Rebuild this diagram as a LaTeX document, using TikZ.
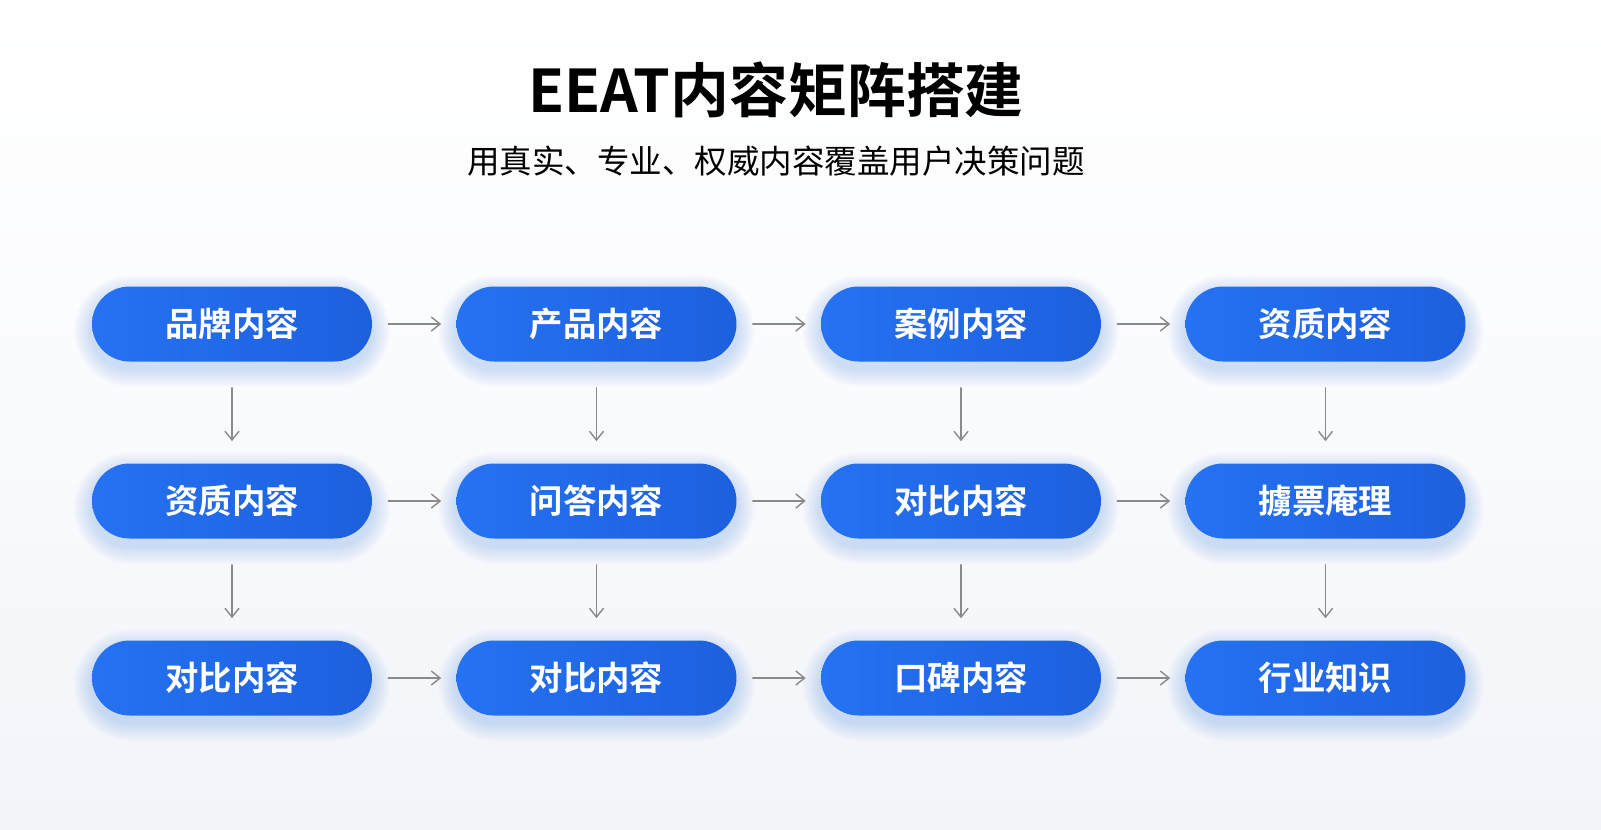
\documentclass[tikz,border=0pt]{standalone}
\usepackage{fontspec}
\newfontfamily\cjk[BoldFont={Noto Sans CJK SC Bold}]{Noto Sans CJK SC}
\usetikzlibrary{arrows.meta}
\definecolor{bgcol}{HTML}{F1F4F9}
\definecolor{boxL}{HTML}{2572F2}
\definecolor{boxR}{HTML}{1D60DE}
\definecolor{arrowcol}{HTML}{8A8A8A}
\begin{document}
\begin{tikzpicture}[line join=round, line cap=round,>={Straight Barb[length=5pt,width=8pt]},x=0.02cm,y=-0.02cm]
	\tikzset{box/.style={rounded corners=0.75cm,minimum width=5.6cm,minimum height=1.5cm,left color=boxL,right color=boxR,text=white,font=\cjk\bfseries\fontsize{19}{22}\selectfont},
		glow/.style={fill=boxL,opacity=0.022},
		link/.style={->,arrowcol,line width=0.8pt}}
	\shade[top color=white,bottom color=bgcol,middle color=bgcol!40] (0,0) rectangle (1601,829);
	\node[font=\cjk\bfseries\fontsize{33.5}{38}\selectfont] (title) at (776,90) {EEAT内容矩阵搭建};
	\node[font=\cjk\fontsize{18.5}{22}\selectfont] (subtitle) at (776,161) {用真实、专业、权威内容覆盖用户决策问题};
	\foreach \r/\c/\t in {1/1/品牌内容,1/2/产品内容,1/3/案例内容,1/4/资质内容,
		2/1/资质内容,2/2/问答内容,2/3/对比内容,2/4/擄票庵理,
		3/1/对比内容,3/2/对比内容,3/3/口碑内容,3/4/行业知识}{
		\pgfmathsetmacro\xx{232+364.5*(\c-1)}
		\pgfmathsetmacro\yy{324+177*(\r-1)}
		\foreach \g in {2,4,...,18}
		\fill[glow,rounded corners={0.75cm+\g*0.02cm}] (\xx-140-\g,\yy-37.5-\g+7) rectangle (\xx+140+\g,\yy+37.5+\g+7);
		\node[box] (n\r\c) at (\xx,\yy) {\t};
	}
	\foreach \r in {1,2,3}
	\foreach \c/\d in {1/2,2/3,3/4}
	\draw[link,shorten <=0.32cm,shorten >=0.3cm] (n\r\c) -- (n\r\d);
	\foreach \c in {1,2,3,4}
	\foreach \r/\s in {1/2,2/3}
	\draw[link,shorten <=0.52cm,shorten >=0.44cm] (n\r\c) -- (n\s\c);
\end{tikzpicture}
\end{document}
